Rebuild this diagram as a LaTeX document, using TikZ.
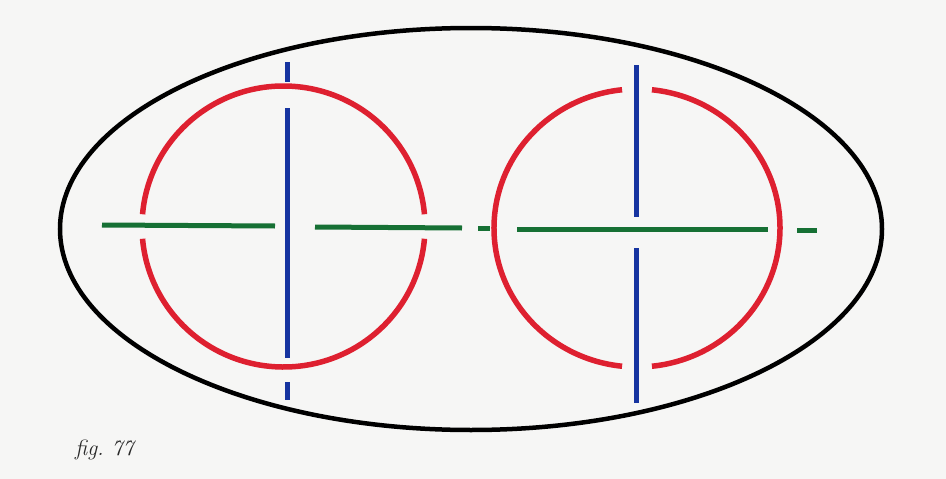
\documentclass[tikz,border=0pt]{standalone}
\usepackage{xcolor}
\usepackage{tikz}
\usetikzlibrary{calc}
\definecolor{rojo}{RGB}{222,32,48}
\definecolor{azul}{RGB}{22,52,160}
\definecolor{verde}{RGB}{22,112,52}
\definecolor{papel}{RGB}{246,246,245}
\definecolor{tinta}{RGB}{40,40,40}

\begin{document}
\begin{tikzpicture}[x=1pt,y=-1pt,
borde/.style={draw=black,line width=4.5pt},
anillo/.style={draw=rojo,line width=5.5pt},
recta/.style={draw=azul,line width=5pt},
eje/.style={draw=verde,line width=5pt},
etiqueta/.style={font=\fontsize{22}{22}\selectfont\itshape,text=tinta,inner sep=0pt}
]
\useasboundingbox (0,0) rectangle (946,479);
\fill[papel] (0,0) rectangle (946,479);

\coordinate (centro) at (471,229);
\coordinate (izq) at (283.5,226.5);
\coordinate (der) at (637,228);

\draw[borde] (centro) ellipse [x radius=411,y radius=201];

% circulo izquierdo, cortado por la recta verde
\draw[anillo] ($(izq)+(5:141.5 and 140.5)$) arc[start angle=5,end angle=175,x radius=141.5,y radius=140.5];
\draw[anillo] ($(izq)+(185:141.5 and 140.5)$) arc[start angle=185,end angle=355,x radius=141.5,y radius=140.5];

% circulo derecho, cortado por la recta azul
\draw[anillo] ($(der)+(-84:143 and 139)$) arc[start angle=-84,end angle=84,x radius=143,y radius=139];
\draw[anillo] ($(der)+(96:143 and 139)$) arc[start angle=96,end angle=264,x radius=143,y radius=139];

% rectas azules
\draw[recta] (287,62) -- (287,82);
\draw[recta] (287,108) -- (287,358);
\draw[recta] (287,382) -- (287,400);
\draw[recta] (636,65) -- (636,217);
\draw[recta] (636,248) -- (636,403);

% recta verde
\draw[eje] (102,225) -- (275,226);
\draw[eje] (315,227) -- (462,228);
\draw[eje] (478,228) -- (490,228);
\draw[eje] (517,229) -- (768,229);
\draw[eje] (797,230) -- (817,230);

\node[etiqueta,anchor=base west] (fig) at (75,455) {fig.\ 77};
\end{tikzpicture}
\end{document}
